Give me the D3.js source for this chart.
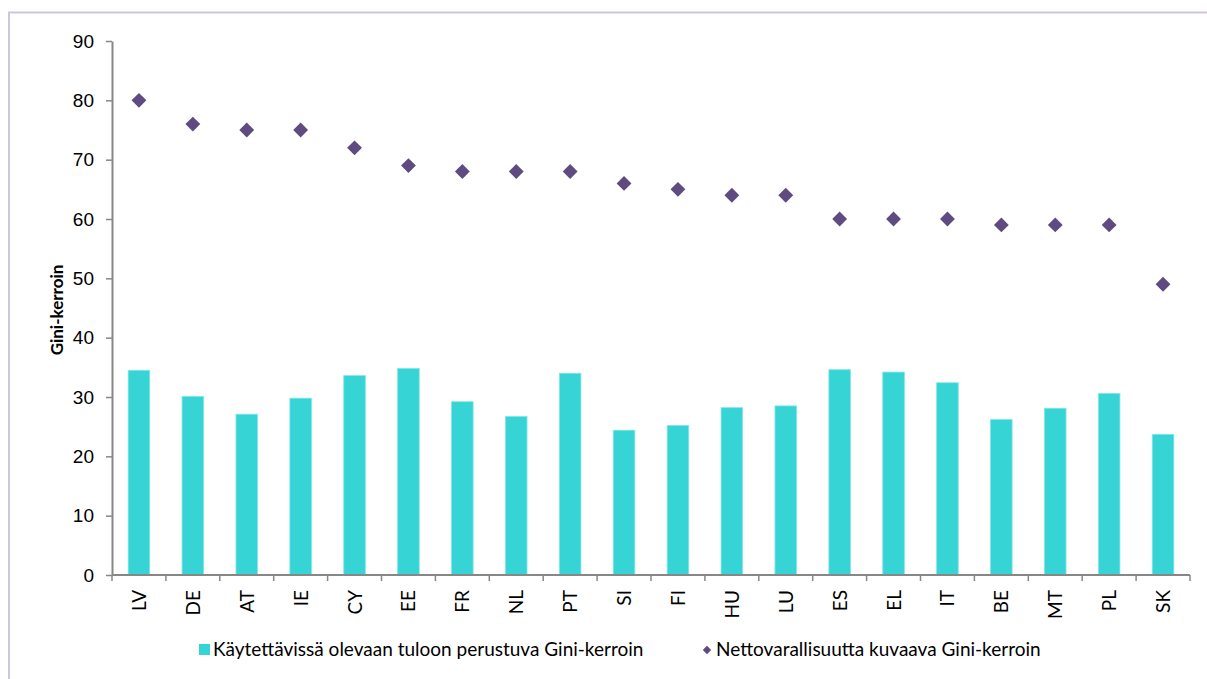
<!DOCTYPE html>
<html>
<head>
<meta charset="utf-8">
<script src="https://cdn.jsdelivr.net/npm/d3@7"></script>
<style>
  html, body { margin: 0; padding: 0; background: #fff; }
  svg { display: block; font-family: Lato, "Open Sans", sans-serif; }
</style>
</head>
<body>
<svg id="chart" width="1207" height="679"></svg>
<script>
// Gini coefficients by country: disposable income (bars) and net wealth (diamonds)
const countries = ["LV","DE","AT","IE","CY","EE","FR","NL","PT","SI","FI","HU","LU","ES","EL","IT","BE","MT","PL","SK"];
const incomeGini = [34.5, 30.1, 27.1, 29.8, 33.6, 34.8, 29.2, 26.7, 34.0, 24.4, 25.2, 28.2, 28.5, 34.6, 34.2, 32.4, 26.2, 28.1, 30.6, 23.7];
const wealthGini = [80, 76, 75, 75, 72, 69, 68, 68, 68, 66, 65, 64, 64, 60, 60, 60, 59, 59, 59, 49];
const yTicks = [0, 10, 20, 30, 40, 50, 60, 70, 80, 90];
const yTitle = "Gini-kerroin";
const legendLabels = ["Käytettävissä olevaan tuloon perustuva Gini-kerroin", "Nettovarallisuutta kuvaava Gini-kerroin"];

const barColor = "#37D4D5";
const pointColor = "#5F4B80";
const axisColor = "#878787";

const svg = d3.select("#chart");

// outer chart frame
svg.append("rect")
  .attr("x", 9).attr("y", 12.5)
  .attr("width", 1240).attr("height", 700)
  .attr("fill", "none")
  .attr("stroke", "#CEC6DF")
  .attr("stroke-width", 2);

const plot = { left: 112, right: 1190, top: 41, bottom: 575 };

const x = d3.scaleBand()
  .domain(countries)
  .range([plot.left, plot.right])
  .paddingInner(0.6)
  .paddingOuter(0.3);

const xBand = d3.scaleBand()
  .domain(countries)
  .range([plot.left, plot.right]);

const y = d3.scaleLinear()
  .domain([0, 90])
  .range([plot.bottom, plot.top]);

// bars
svg.append("g")
  .selectAll("rect")
  .data(countries)
  .join("rect")
  .attr("x", d => x(d))
  .attr("width", x.bandwidth())
  .attr("y", (d, i) => y(incomeGini[i]))
  .attr("height", (d, i) => y(0) - y(incomeGini[i]))
  .attr("fill", barColor)
  .attr("stroke", "#7FE6E6")
  .attr("stroke-width", 0.8);

// y axis
const yAxis = svg.append("g")
  .attr("transform", `translate(${plot.left},0)`)
  .call(d3.axisLeft(y).tickValues(yTicks).tickSize(6).tickPadding(12).tickSizeOuter(0));
yAxis.select(".domain").attr("stroke", axisColor).attr("stroke-width", 2);
yAxis.selectAll(".tick line").attr("stroke", axisColor).attr("stroke-width", 1.5);
yAxis.selectAll(".tick text")
  .attr("fill", "#000")
  .style("font-size", "19px");

// x axis: ticks at category boundaries
const xAxisG = svg.append("g").attr("transform", `translate(0,${plot.bottom})`);
xAxisG.append("line")
  .attr("x1", plot.left).attr("x2", plot.right)
  .attr("stroke", axisColor).attr("stroke-width", 2);
const boundaries = countries.map(c => xBand(c)).concat([plot.right]);
xAxisG.selectAll("line.tick")
  .data(boundaries)
  .join("line")
  .attr("class", "tick")
  .attr("x1", d => d).attr("x2", d => d)
  .attr("y1", 0).attr("y2", 6)
  .attr("stroke", axisColor).attr("stroke-width", 1.5);
xAxisG.selectAll("text")
  .data(countries)
  .join("text")
  .attr("transform", d => `translate(${xBand(d) + xBand.bandwidth() / 2 + 7},15) rotate(-90)`)
  .attr("text-anchor", "end")
  .style("font-size", "19px")
  .attr("fill", "#000")
  .text(d => d);

// wealth diamonds
const diamond = d3.symbol().type(d3.symbolDiamond2).size(140);
svg.append("g")
  .selectAll("path")
  .data(countries)
  .join("path")
  .attr("d", diamond)
  .attr("transform", (d, i) => `translate(${xBand(d) + xBand.bandwidth() / 2},${y(wealthGini[i])})`)
  .attr("fill", pointColor);

// y axis title
svg.append("text")
  .attr("transform", `translate(63,${(plot.top + plot.bottom) / 2 + 2}) rotate(-90)`)
  .attr("text-anchor", "middle")
  .style("font-size", "17px")
  .style("font-weight", "bold")
  .attr("fill", "#000")
  .text(yTitle);

// legend
const legend = svg.append("g").attr("transform", "translate(0,650)");
legend.append("rect")
  .attr("x", 199).attr("y", -6).attr("width", 11).attr("height", 11)
  .attr("fill", barColor);
legend.append("text")
  .attr("x", 213).attr("y", 6)
  .style("font-size", "19px")
  .attr("fill", "#000")
  .text(legendLabels[0]);
legend.append("path")
  .attr("d", d3.symbol().type(d3.symbolDiamond2).size(45))
  .attr("transform", "translate(707,0)")
  .attr("fill", pointColor);
legend.append("text")
  .attr("x", 716).attr("y", 6)
  .style("font-size", "19px")
  .attr("fill", "#000")
  .text(legendLabels[1]);
</script>
</body>
</html>
